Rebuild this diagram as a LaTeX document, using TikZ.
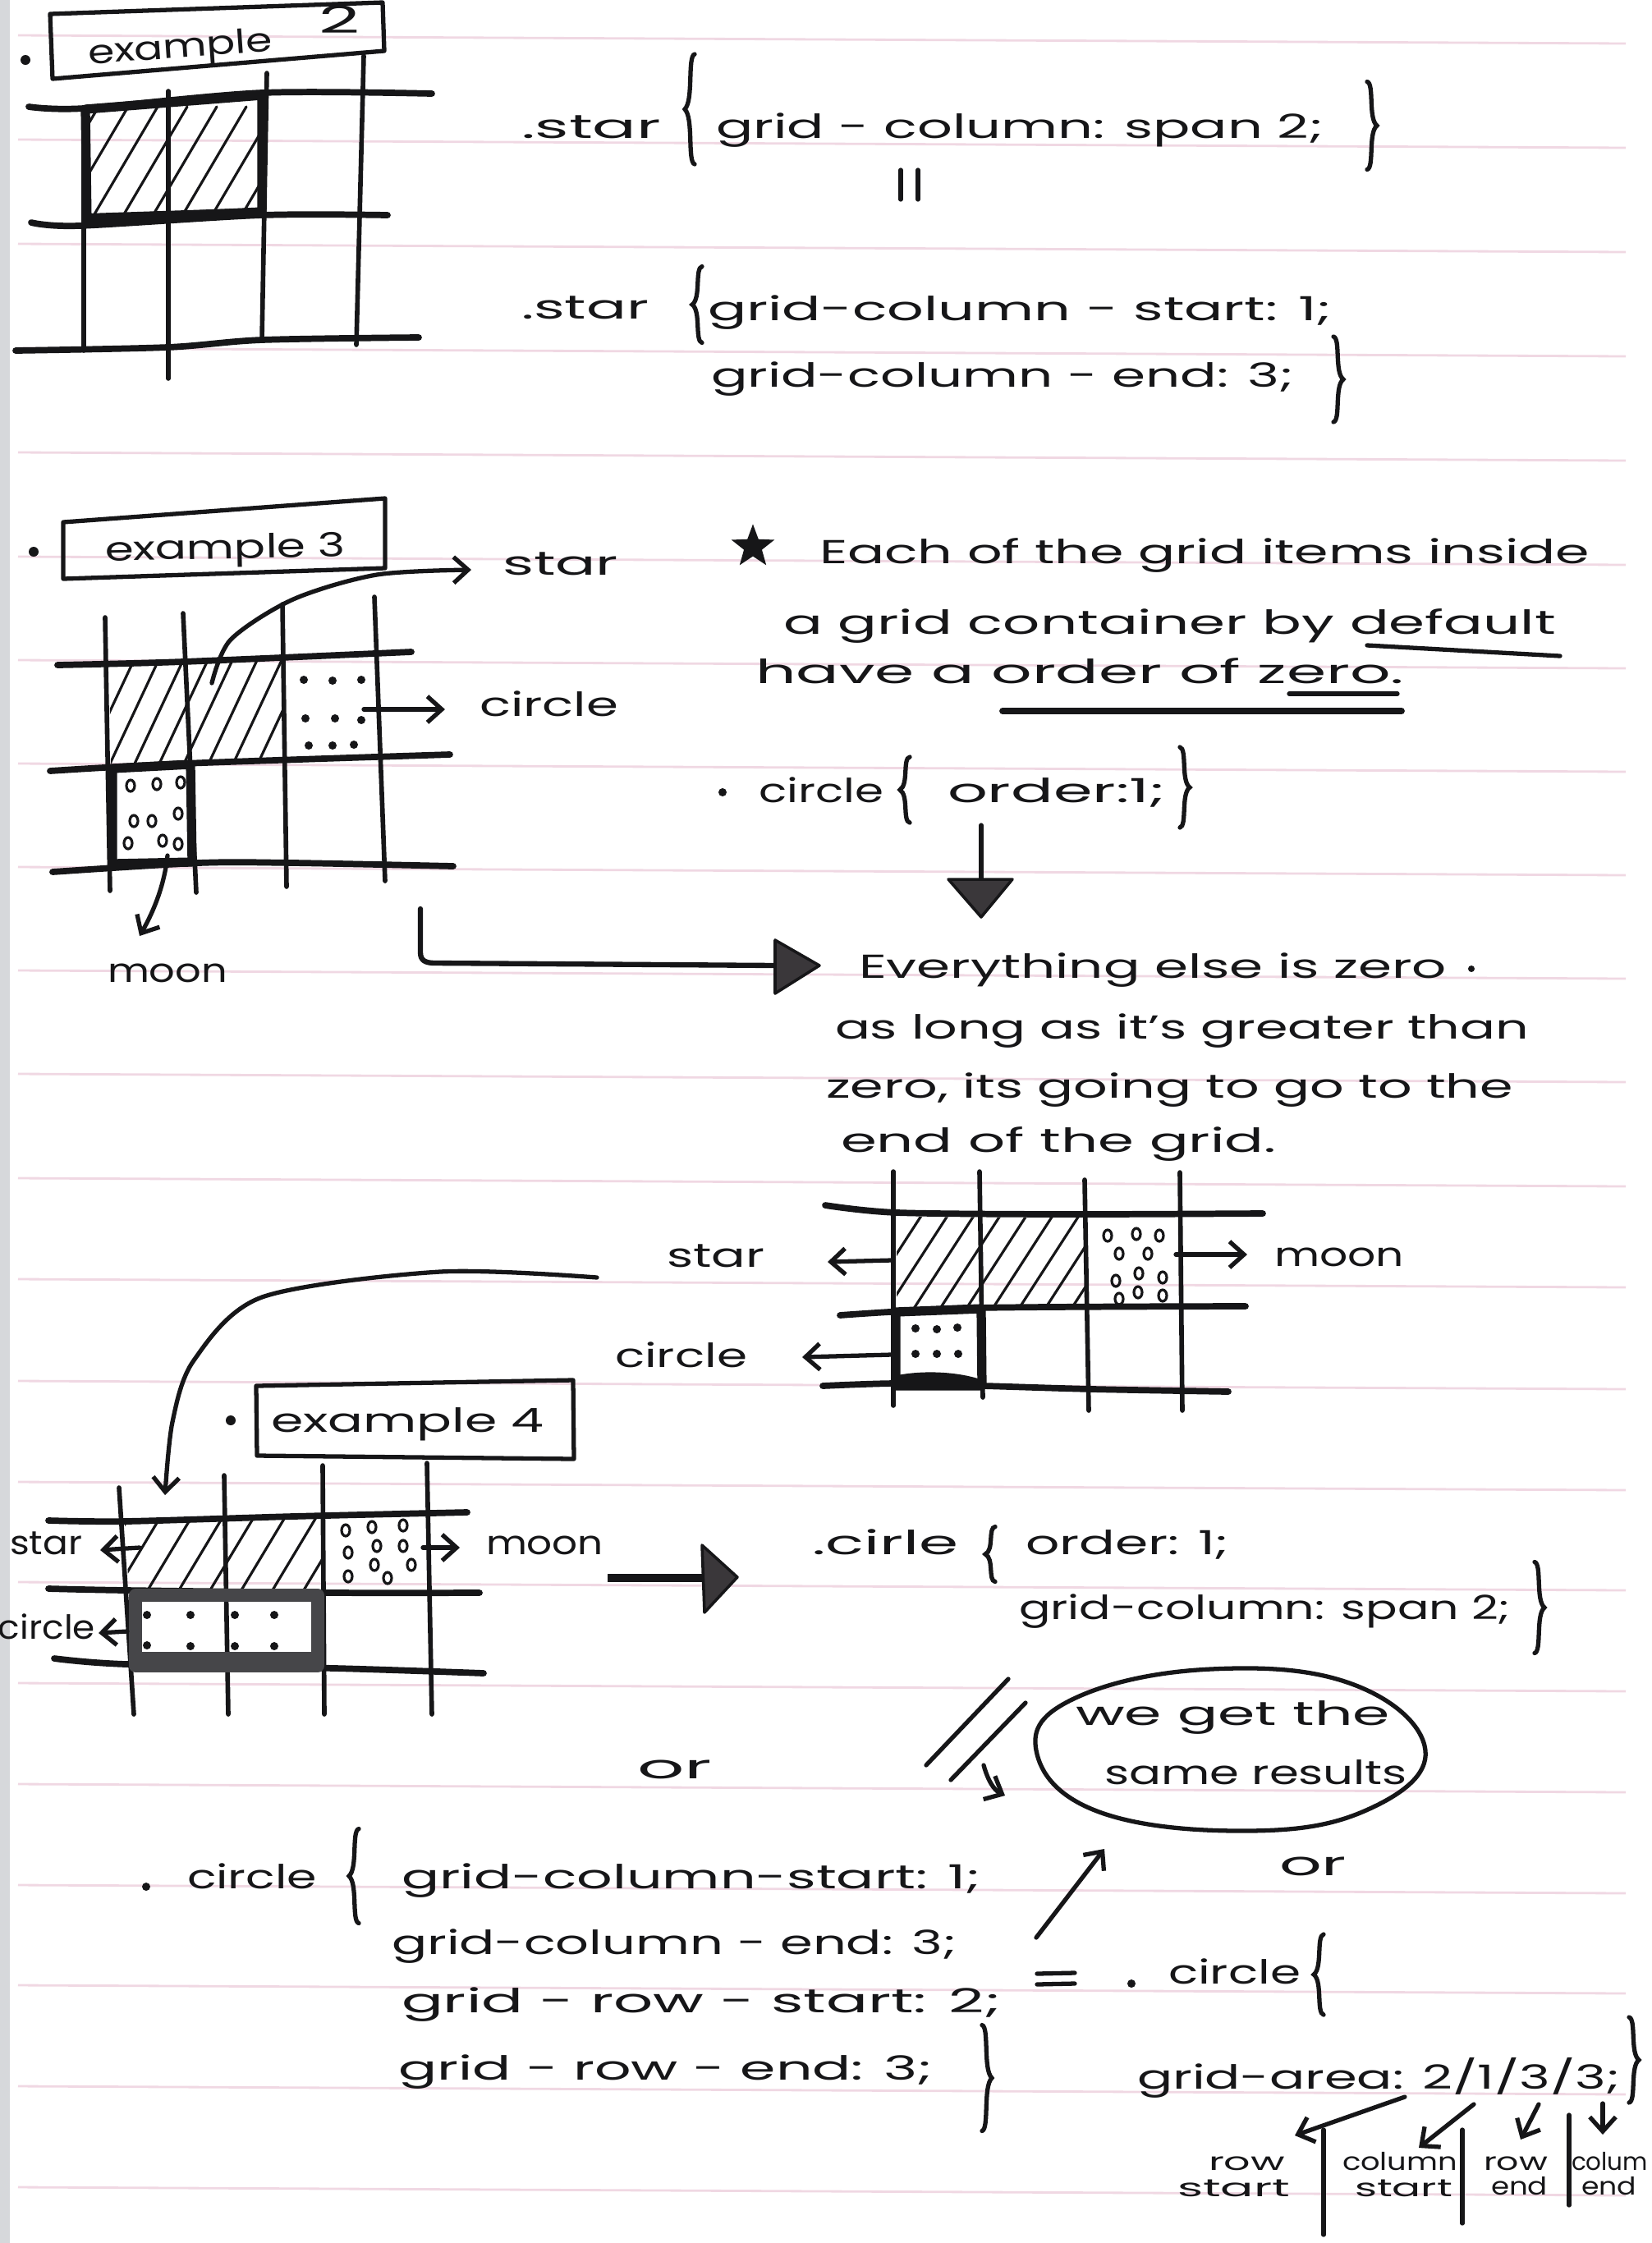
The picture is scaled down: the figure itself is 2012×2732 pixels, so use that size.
\documentclass[tikz,border=0pt]{standalone}
\usepackage{fontspec}
\usepackage{graphicx}
\setmainfont{Poppins}
\usetikzlibrary{arrows.meta,shapes.geometric,calc}

\definecolor{ink}{RGB}{22,22,24}
\definecolor{ruling}{RGB}{240,216,227}
\definecolor{headfill}{RGB}{58,55,58}
\definecolor{smudge}{RGB}{70,70,73}
\definecolor{pageedge}{RGB}{214,216,219}

% text of fixed size, stretched horizontally to a width given in picture units
\newcommand\wfit[2]{\resizebox{\dimexpr 0.01cm*#1\relax}{\height}{#2}}

% hand-drawn curly brace, 100 units tall, opening to the right
\tikzset{pics/lbrace/.style={code={
  \draw[draw=ink,line width=1.5pt,line cap=round]
    (6,-50) .. controls (-3,-48) and (5,-8) .. (-6,0)
            .. controls (5,8) and (-3,48) .. (6,50);}}}

\begin{document}
\begin{tikzpicture}[x=0.01cm,y=-0.01cm,
  every node/.style={inner sep=0pt,outer sep=0pt},
  hand/.style={font=\fontsize{11.5}{14}\selectfont,text=ink,anchor=base west},
  small hand/.style={font=\fontsize{8.5}{10}\selectfont,text=ink,anchor=base west},
  gridrule/.style={draw=ink,line width=2.2pt,line cap=round},
  gridcol/.style={draw=ink,line width=1.6pt,line cap=round},
  pen/.style={draw=ink,line width=1.5pt,line cap=round,line join=round},
  hatchpen/.style={draw=ink,line width=0.9pt,line cap=round},
  boldpen/.style={draw=ink,line width=3.2pt,line join=round},
  barb/.style={-{Straight Barb[length=5pt,width=9pt]}},
  ringpen/.style={draw=ink,line width=0.9pt},
  headtri/.style={fill=headfill,draw=ink,line width=1pt,line join=round},
]
\useasboundingbox (0,0) rectangle (2012,2732);
\fill[white] (0,0) rectangle (2012,2732);
\fill[pageedge] (0,0) rectangle (12,2732);

% ruled paper
\foreach \ry in {43,170,297,424,551,678,804,930,1056,1182,1308,1435,1558,1682,1805,1927,2050,2173,2296,2418,2541,2664}
  \draw[ruling,line width=0.8pt] (22,\ry) -- (1980,\ry+10);

% ================= example 2 =================
\fill[ink] (31,73) circle (6);
\draw[pen] (61,17) -- (466,3) -- (468,62) -- (64,96) -- cycle;
\node[hand,rotate=4] (ex2) at (108,78) {\wfit{225}{example}};
\node[hand,font=\fontsize{13}{15}\selectfont] (ex2n) at (388,40) {\wfit{50}{2}};

\draw[gridrule] plot[smooth,tension=0.5] coordinates {(35,130) (102,132) (319,113) (526,114)};
\draw[gridrule] plot[smooth,tension=0.5] coordinates {(38,271) (96,275) (319,262) (472,262)};
\draw[gridrule] plot[smooth,tension=0.5] coordinates {(19,427) (204,423) (319,414) (510,411)};
\draw[gridcol] (102,134) -- (102,427);
\draw[gridcol] (205,111) -- (205,461);
\draw[gridcol] (325,89) -- (319,414);
\draw[gridcol] (443,68) -- (434,420);
\begin{scope}
  \clip (106,136) -- (317,119) -- (317,254) -- (108,264) -- cycle;
  \foreach \hx in {0,36,...,330} \draw[hatchpen] (\hx+20,300) -- ++(100,-170);
\end{scope}
\draw[boldpen] (104,133) -- (319,116) -- (319,258) -- (106,268) -- cycle;
\fill[ink] (106,260) -- (319,253) -- (319,263) -- (106,273) -- cycle;

\node[hand] (s2a) at (635,168) {\wfit{170}{.star}};
\pic[yscale=1.34] at (840,133) {lbrace};
\node[hand] (s2b) at (872,168) {\wfit{740}{grid - column: span 2;}};
\pic[xscale=-1,yscale=1.07] at (1671,153) {lbrace};
\draw[pen] (1097,207) -- (1097,243) (1118,207) -- (1118,243);
\node[hand] (s2c) at (635,388) {\wfit{155}{.star}};
\pic[yscale=0.93] at (849,371) {lbrace};
\node[hand] (s2d) at (862,390) {\wfit{760}{grid-column - start: 1;}};
\node[hand] (s2e) at (866,471) {\wfit{710}{grid-column - end: 3;}};
\pic[xscale=-1,yscale=1.04] at (1630,462) {lbrace};

% ================= example 3 =================
\fill[ink] (41,672) circle (6);
\draw[pen] (77,636) -- (469,607) -- (469,692) -- (77,705) -- cycle;
\node[hand,rotate=1] (ex3) at (128,683) {\wfit{293}{example 3}};

\draw[gridrule] plot[smooth,tension=0.5] coordinates {(70,810) (223,806) (501,794)};
\draw[gridrule] plot[smooth,tension=0.5] coordinates {(61,939) (223,930) (548,919)};
\draw[gridrule] plot[smooth,tension=0.5] coordinates {(64,1062) (242,1051) (357,1051) (552,1055)};
\draw[gridcol] (128,752) -- (134,1085);
\draw[gridcol] (223,747) -- (239,1087);
\draw[gridcol] (344,736) -- (349,1080);
\draw[gridcol] (456,727) -- (469,1073);
\begin{scope}
  \clip (133,810) -- (344,803) -- (346,923) -- (135,932) -- cycle;
  \foreach \hx in {60,90,...,360} \draw[hatchpen] (\hx,960) -- ++(75,-160);
\end{scope}
\foreach \dx/\dy in {370/828,405/829,440/828,372/875,408/875,440/877,376/908,405/908,431/907}
  \fill[ink] (\dx,\dy) circle (5);
\draw[boldpen] (137,936) -- (232,931) -- (234,1050) -- (137,1052) -- cycle;
\foreach \cx/\cy in {159/957,191/955,220/953,163/1000,185/1000,217/991,156/1027,198/1024,217/1028}
  \draw[ringpen] (\cx,\cy) ellipse [x radius=5,y radius=7];

\coordinate (m3a) at (204,1042);
\coordinate (m3b) at (170,1140);
\draw[pen,barb] (m3a) .. controls (200,1080) and (186,1112) .. (m3b);
\node[hand] (moon3) at (131,1196) {\wfit{146}{moon}};
\coordinate (c3s) at (443,864);
\coordinate (c3e) at (542,864);
\draw[pen,barb] (c3s) -- (c3e);
\node[hand] (circ3) at (584,872) {\wfit{169}{circle}};
\draw[pen,barb] plot[smooth] coordinates {(258,832) (281,779) (357,730) (459,700) (574,694)};
\node[hand] (star3) at (612,700) {\wfit{141}{star}};

% elbow connector to the explanation
\draw[pen,line width=1.8pt] (512,1107) -- (512,1160) .. controls (512,1170) and (518,1173) .. (530,1173) -- (946,1176);
\draw[headtri] (944,1145) -- (998,1176) -- (944,1210) -- cycle;

% ================= notes on order =================
\node[star,star points=5,star point ratio=2.4,draw=ink,fill=ink,line width=1.1pt,minimum size=0.44cm] (bstar) at (917,666) {};
\node[hand] (l1) at (998,686) {\wfit{938}{Each of the grid items inside}};
\node[hand] (l2) at (954,772) {\wfit{941}{a grid container by default}};
\node[hand] (l3) at (920,832) {\wfit{790}{have a order of zero.}};
\draw[pen] (1665,786) -- (1900,799);
\draw[pen] (1570,845) -- (1702,845);
\draw[pen,line width=2.2pt] (1221,866) -- (1707,866);

\fill[ink] (880,965) circle (5);
\node[hand] (c3a) at (924,977) {\wfit{152}{circle}};
\pic[yscale=0.8] at (1102,962) {lbrace};
\node[hand] (c3b) at (1154,977) {\wfit{266}{order:1;}};
\pic[xscale=-1,yscale=0.98] at (1443,959) {lbrace};

\draw[pen] (1195,1005) -- (1195,1075);
\draw[headtri] (1155,1071) -- (1233,1071) -- (1195,1117) -- cycle;

\node[hand] (e1) at (1046,1191) {\wfit{716}{Everything else is zero}};
\fill[ink] (1792,1180) circle (4);
\node[hand] (e2) at (1017,1265) {\wfit{845}{as long as it's greater than}};
\node[hand] (e3) at (1006,1337) {\wfit{837}{zero, its going to go to the}};
\node[hand] (e4) at (1024,1403) {\wfit{530}{end of the grid.}};

% ================= reordered grid =================
\draw[gridrule] plot[smooth,tension=0.5] coordinates {(1005,1468) (1093,1477) (1300,1479) (1538,1478)};
\draw[gridrule] plot[smooth,tension=0.5] coordinates {(1023,1602) (1191,1593) (1517,1591)};
\draw[gridrule] plot[smooth,tension=0.5] coordinates {(1002,1688) (1093,1685) (1198,1688) (1331,1692) (1496,1695)};
\draw[gridcol] (1088,1427) -- (1088,1712);
\draw[gridcol] (1193,1427) -- (1197,1702);
\draw[gridcol] (1321,1437) -- (1326,1718);
\draw[gridcol] (1437,1428) -- (1440,1718);
\begin{scope}
  \clip (1092,1482) -- (1320,1483) -- (1321,1590) -- (1092,1596) -- cycle;
  \foreach \hx in {1000,1032,...,1330} \draw[hatchpen] (\hx,1620) -- ++(97,-150);
\end{scope}
\foreach \cx/\cy in {1349/1505,1384/1503,1412/1505,1363/1527,1398/1527,1359/1560,1387/1551,1416/1556,1386/1574,1416/1578,1363/1582}
  \draw[ringpen] (\cx,\cy) ellipse [x radius=5,y radius=7];
\draw[boldpen] (1091,1598) -- (1195,1594) -- (1196,1688) -- (1091,1688) -- cycle;
\fill[ink] (1093,1675) .. controls (1130,1668) and (1170,1672) .. (1194,1680) -- (1194,1692) -- (1093,1692) -- cycle;
\foreach \dx/\dy in {1115/1618,1141/1619,1166/1617,1115/1649,1141/1649,1167/1649}
  \fill[ink] (\dx,\dy) circle (5);

\node[hand] (star4) at (812,1543) {\wfit{119}{star}};
\coordinate (s4s) at (1086,1535);
\coordinate (s4e) at (1008,1537);
\draw[pen,barb] (s4s) -- (s4e);
\node[hand] (circ4) at (749,1665) {\wfit{161}{circle}};
\coordinate (c4s) at (1086,1650);
\coordinate (c4e) at (977,1653);
\draw[pen,barb] (c4s) -- (c4e);
\coordinate (m4s) at (1432,1528);
\coordinate (m4e) at (1519,1528);
\draw[pen,barb] (m4s) -- (m4e);
\node[hand] (moon4) at (1552,1542) {\wfit{158}{moon}};

% ================= example 4 =================
\draw[pen,barb] plot[smooth] coordinates {(727,1556) (536,1549) (319,1580) (236,1657) (210,1732) (201,1821)};
\fill[ink] (281,1730) circle (6);
\draw[pen] (312,1688) -- (698,1681) -- (699,1777) -- (313,1773) -- cycle;
\node[hand] (ex4) at (330,1744) {\wfit{332}{example 4}};

\draw[gridrule] plot[smooth,tension=0.5] coordinates {(59,1852) (153,1853) (357,1847) (569,1842)};
\draw[gridrule] plot[smooth,tension=0.5] coordinates {(59,1935) (153,1937) (408,1940) (584,1940)};
\draw[gridrule] plot[smooth,tension=0.5] coordinates {(66,2020) (153,2027) (408,2032) (589,2038)};
\draw[gridcol] (145,1812) -- (163,2088);
\draw[gridcol] (273,1797) -- (278,2088);
\draw[gridcol] (393,1785) -- (395,2088);
\draw[gridcol] (520,1782) -- (526,2088);
\begin{scope}
  \clip (152,1854) -- (392,1848) -- (393,1936) -- (157,1936) -- cycle;
  \foreach \hx in {90,128,...,420} \draw[hatchpen] (\hx,1960) -- ++(72,-120);
\end{scope}
\foreach \cx/\cy in {421/1864,453/1860,491/1858,459/1883,491/1883,424/1891,456/1906,501/1906,424/1920,472/1922}
  \draw[ringpen] (\cx,\cy) ellipse [x radius=5,y radius=7];
\fill[smudge] (166,2012) rectangle (386,2030);
\draw[draw=smudge,line width=4.5pt,line join=round] (165,1943) -- (387,1943) -- (387,2029) -- (165,2029) -- cycle;
\foreach \dx/\dy in {179/1967,232/1967,286/1967,334/1967,179/2004,232/2005,286/2005,334/2005}
  \fill[ink] (\dx,\dy) circle (5);

\node[hand] (star5) at (12,1893) {\wfit{88}{star}};
\coordinate (s5s) at (170,1885);
\coordinate (s5e) at (122,1888);
\draw[pen,barb] (s5s) -- (s5e);
\node[hand] (circ5) at (-2,1996) {\wfit{118}{circle}};
\coordinate (c5s) at (155,1987);
\coordinate (c5e) at (120,1989);
\draw[pen,barb] (c5s) -- (c5e);
\coordinate (m5s) at (515,1885);
\coordinate (m5e) at (560,1885);
\draw[pen,barb] (m5s) -- (m5e);
\node[hand] (moon5) at (592,1893) {\wfit{143}{moon}};

\draw[ink,line width=3pt] (740,1922) -- (858,1922);
\draw[headtri] (855,1882) -- (898,1921) -- (858,1964) -- cycle;

\node[hand] (c6a) at (989,1893) {\wfit{178}{.cirle}};
\pic[yscale=0.67] at (1206,1893) {lbrace};
\node[hand] (c6b) at (1249,1893) {\wfit{248}{order: 1;}};
\node[hand] (c6c) at (1241,1972) {\wfit{599}{grid-column: span 2;}};
\pic[xscale=-1,yscale=1.11] at (1875,1958) {lbrace};

\node[hand] (or1) at (776,2166) {\wfit{91}{or}};
\draw[pen] (1128,2150) -- (1228,2045);
\draw[pen] (1158,2168) -- (1249,2074);
\draw[pen,barb] (1198,2150) .. controls (1203,2168) and (1210,2180) .. (1224,2187);

% the "same results" bubble
\draw[pen] plot[smooth cycle,tension=0.7] coordinates {(1262,2132) (1310,2068) (1475,2033) (1649,2052) (1736,2132) (1666,2204) (1519,2230) (1336,2206)};
\node[hand] (res1) at (1310,2101) {\wfit{383}{we get the}};
\node[hand] (res2) at (1345,2173) {\wfit{369}{same results}};

\coordinate (up1) at (1262,2360);
\coordinate (up2) at (1345,2252);
\draw[pen,barb] (up1) -- (up2);
\node[hand] (or2) at (1558,2284) {\wfit{82}{or}};

% ================= long form =================
\fill[ink] (178,2298) circle (5);
\node[hand] (c7a) at (228,2300) {\wfit{158}{circle}};
\pic[yscale=1.15] at (431,2285) {lbrace};
\node[hand] (g1) at (489,2300) {\wfit{705}{grid-column-start: 1;}};
\node[hand] (g2) at (477,2380) {\wfit{688}{grid-column - end: 3;}};
\node[hand] (g3) at (489,2451) {\wfit{730}{grid - row - start: 2;}};
\node[hand] (g4) at (485,2533) {\wfit{651}{grid - row - end: 3;}};
\pic[xscale=-1,yscale=1.29] at (1202,2531) {lbrace};

\draw[pen] (1263,2404) -- (1309,2403) (1263,2417) -- (1309,2416);
\fill[ink] (1378,2416) circle (5);
\node[hand] (c8a) at (1423,2416) {\wfit{161}{circle}};
\pic[yscale=0.98] at (1606,2405) {lbrace};

\node[hand] (ga) at (1385,2544) {\wfit{588}{grid-area: 2/1/3/3;}};
\pic[xscale=-1,yscale=1.04] at (1990,2509) {lbrace};

\node[small hand] (rs1) at (1472,2643) {\wfit{93}{row}};
\node[small hand] (rs2) at (1434,2675) {\wfit{137}{start}};
\node[small hand] (cs1) at (1635,2643) {\wfit{140}{column}};
\node[small hand] (cs2) at (1650,2675) {\wfit{119}{start}};
\node[small hand] (re1) at (1807,2643) {\wfit{78}{row}};
\node[small hand] (re2) at (1816,2673) {\wfit{69}{end}};
\node[small hand] (ce1) at (1914,2643) {\wfit{93}{colum}};
\node[small hand] (ce2) at (1926,2673) {\wfit{67}{end}};
\draw[pen] (1612,2594) -- (1612,2722);
\draw[pen] (1781,2594) -- (1781,2708);
\draw[pen] (1911,2576) -- (1911,2686);

\coordinate (d2) at (1711,2554);
\coordinate (d1) at (1795,2563);
\coordinate (d3) at (1874,2563);
\coordinate (d4) at (1952,2562);
\coordinate (a2) at (1577,2601);
\coordinate (a1) at (1728,2616);
\coordinate (a3) at (1852,2606);
\coordinate (a4) at (1952,2600);
\draw[pen,barb] (d2) -- (a2);
\draw[pen,barb] (d1) -- (a1);
\draw[pen,barb] (d3) -- (a3);
\draw[pen,barb] (d4) -- (a4);
\end{tikzpicture}
\end{document}
